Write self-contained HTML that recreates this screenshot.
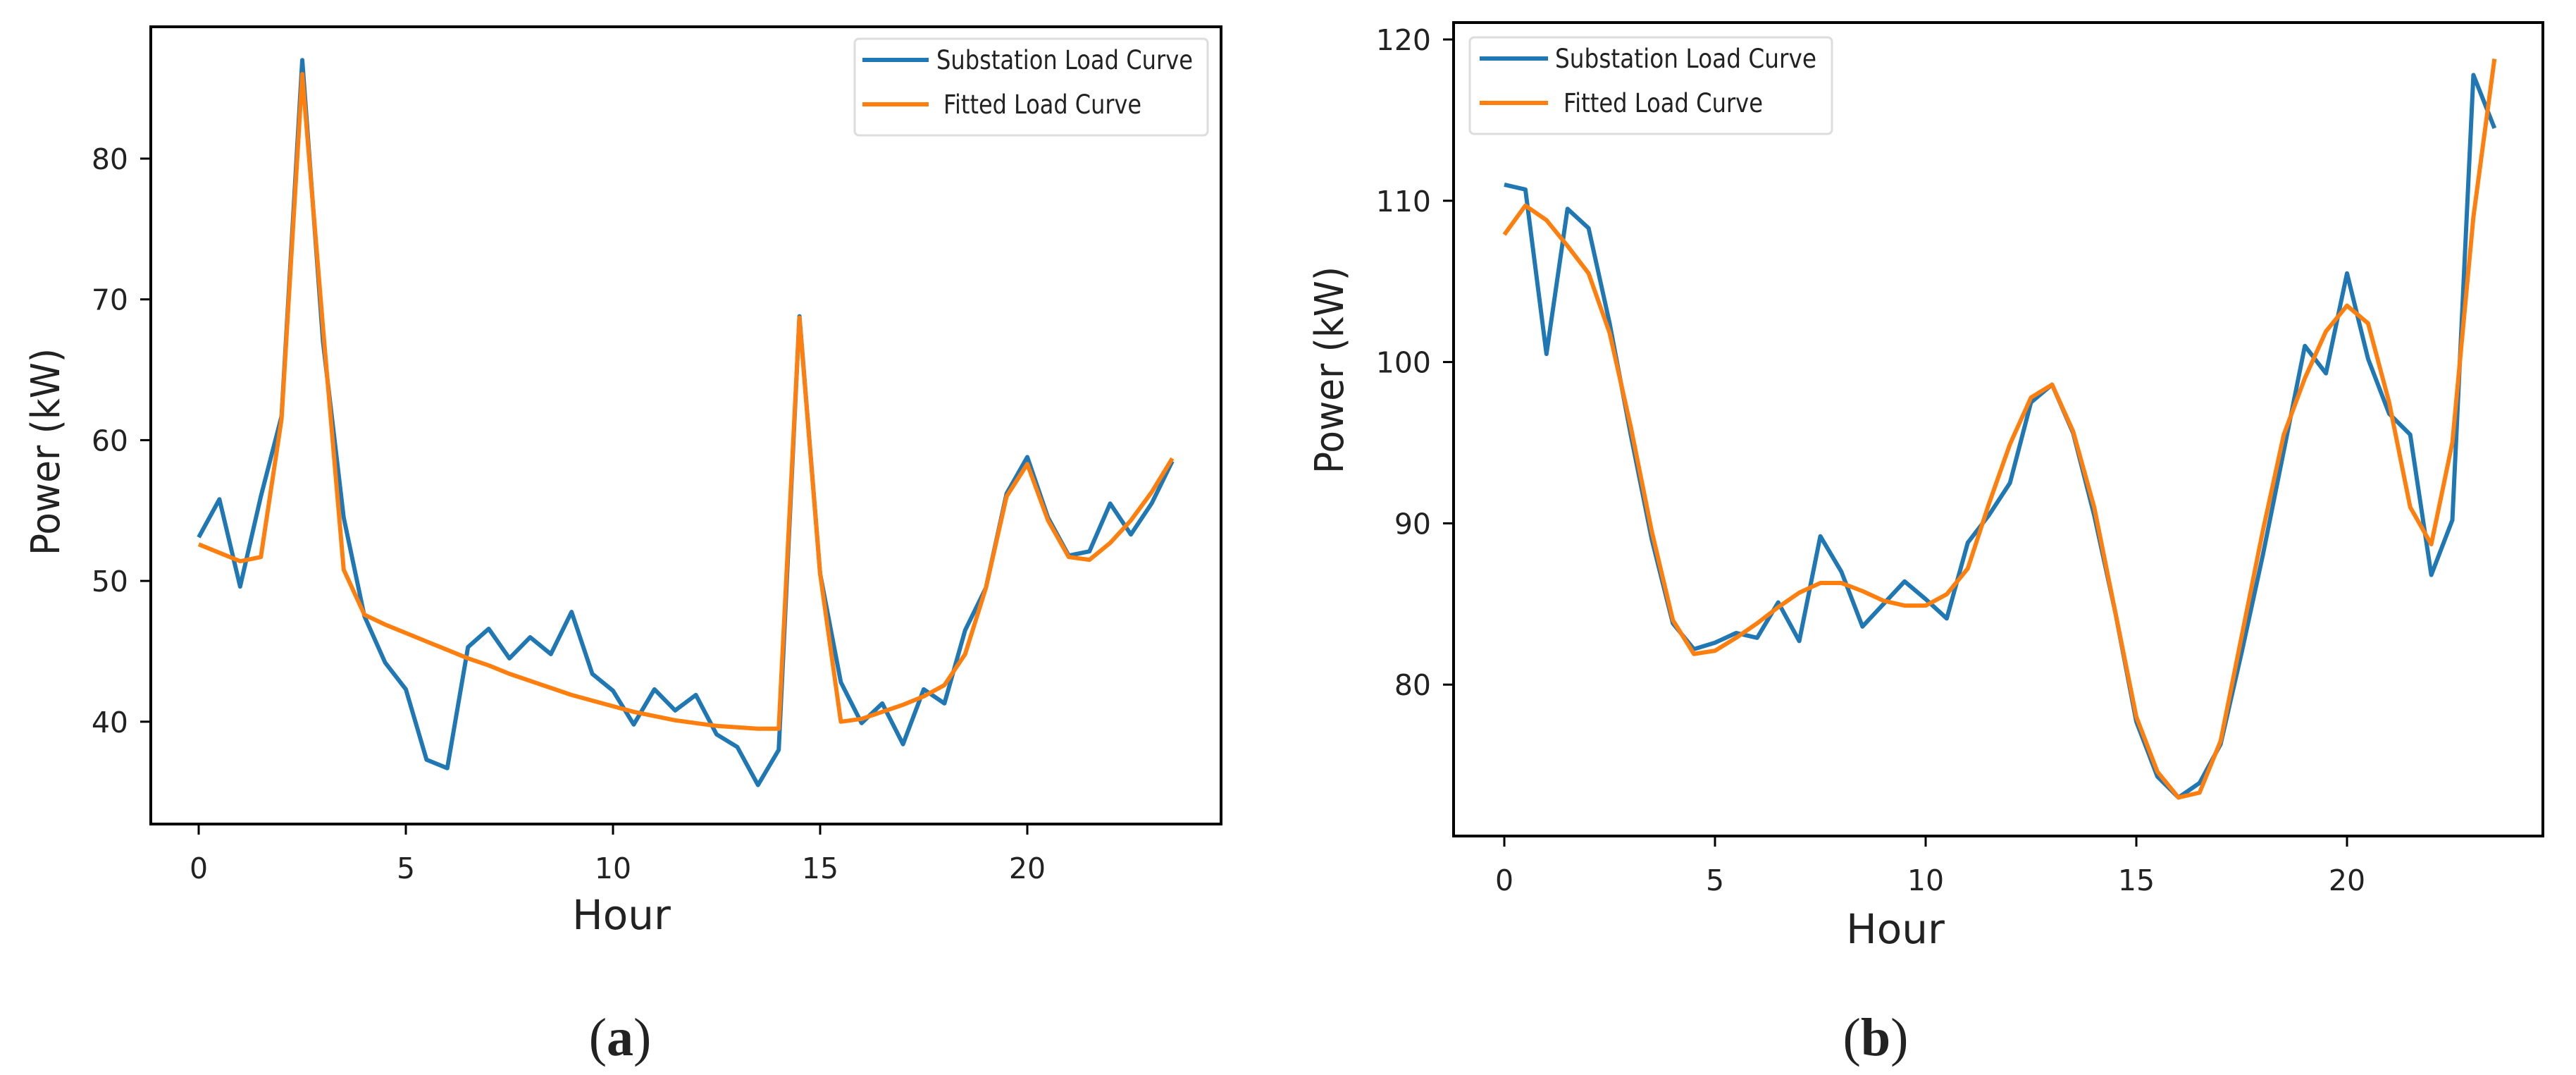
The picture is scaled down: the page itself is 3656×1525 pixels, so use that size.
<!DOCTYPE html>
<html><head><meta charset="utf-8"><style>
html,body{margin:0;padding:0;background:#fff;}
svg{display:block;}
text{font-family:"DejaVu Sans","Liberation Sans",sans-serif;fill:#222;}
</style></head><body>
<svg id="fig" width="3656" height="1525" viewBox="0 0 3656 1525" xmlns="http://www.w3.org/2000/svg">
<rect width="3656" height="1525" fill="#fff"/>
</svg>
<script>
const hours = [];
for (let i = 0; i < 48; i++) hours.push(i * 0.5);
const xTicks = [0, 5, 10, 15, 20];
const yTicksA = [40, 50, 60, 70, 80];
const yTicksB = [80, 90, 100, 110, 120];
const substationA = [53.1,55.8,49.6,56,61.7,87,67,54.5,47.5,44.2,42.3,37.3,36.7,45.3,46.6,44.5,46.0,44.8,47.8,43.4,42.2,39.8,42.3,40.8,41.9,39.1,38.2,35.5,38.0,68.8,50.5,42.8,39.9,41.3,38.4,42.3,41.3,46.5,49.5,56.2,58.8,54.5,51.8,52.1,55.5,53.3,55.5,58.5];
const fittedA = [52.6,52.0,51.4,51.7,61.5,86.0,68,50.8,47.6,46.9,46.3,45.7,45.1,44.5,44.0,43.4,42.9,42.4,41.9,41.5,41.1,40.7,40.4,40.1,39.9,39.7,39.6,39.5,39.5,68.7,50.5,40.0,40.2,40.7,41.2,41.8,42.6,44.8,49.5,56.0,58.3,54.3,51.7,51.5,52.7,54.3,56.3,58.7];
const substationB = [111.0,110.7,100.5,109.5,108.3,102.4,95.5,89,83.8,82.2,82.6,83.2,82.9,85.1,82.7,89.2,87.0,83.6,85.0,86.4,85.3,84.1,88.8,90.5,92.5,97.5,98.6,95.6,90.5,84.5,77.7,74.3,73.0,73.9,76.3,82,88,94.5,101.0,99.3,105.5,100.2,96.8,95.5,86.8,90.2,117.8,114.5];
const fittedB = [107.9,109.7,108.8,107.2,105.5,101.8,96,89.5,84,81.9,82.1,82.9,83.8,84.8,85.7,86.3,86.3,85.8,85.2,84.9,84.9,85.6,87.2,91.2,94.9,97.8,98.6,95.7,91,84.5,78,74.6,73,73.3,76.5,83,89.5,95.5,99,101.9,103.5,102.4,97.5,91,88.7,95,109,118.8];

const NS = "http://www.w3.org/2000/svg";
const svg = document.getElementById('fig');
function mk(tag, attrs, parent) {
  const e = document.createElementNS(NS, tag);
  for (const k in attrs) e.setAttribute(k, attrs[k]);
  (parent || svg).appendChild(e);
  return e;
}

function drawPanel(cfg) {
  const g = mk('g', {});
  
  
  const xs = v => cfg.x0 + v * cfg.xk;
  const ys = v => cfg.yRef + (cfg.yRefV - v) * cfg.yk;
  const frame = mk('rect', {x: cfg.L, y: cfg.T, width: cfg.R - cfg.L, height: cfg.B - cfg.T, fill: 'none', stroke: '#000', 'stroke-width': 4}, g);
  
  
  xTicks.forEach(t => {
    const tk = mk('line', {x1: xs(t), x2: xs(t), y1: cfg.B, y2: cfg.B + 15, stroke: '#000', 'stroke-width': 3}, g);
    
    
    const tl = mk('text', {x: xs(t), y: cfg.B + 77, 'text-anchor': 'middle', 'font-size': 41}, g);
    tl.textContent = t;
    
    
  });
  cfg.yTicks.forEach(t => {
    const tk = mk('line', {x1: cfg.L - 15, x2: cfg.L, y1: ys(t), y2: ys(t), stroke: '#000', 'stroke-width': 3}, g);
    
    
    const tl = mk('text', {x: cfg.L - 32, y: ys(t) + 15, 'text-anchor': 'end', 'font-size': 41}, g);
    tl.textContent = t;
    
    
  });
  const xt = mk('text', {x: cfg.hourX, y: cfg.hourY, 'text-anchor': 'middle', 'font-size': 58}, g);
  xt.textContent = 'Hour';
  
  
  const yt = mk('text', {x: 0, y: 0, 'text-anchor': 'middle', 'font-size': 56, textLength: 294, lengthAdjust: 'spacingAndGlyphs', transform: `translate(${cfg.ylX},${cfg.ylY}) rotate(-90)`}, g);
  yt.textContent = 'Power (kW)';
  
  
  const p1 = mk('polyline', {points: hours.map((h, i) => xs(h) + ',' + ys(cfg.sub[i])).join(' '), fill: 'none', stroke: '#1f77b4', 'stroke-width': 6, 'stroke-linejoin': 'round'}, g);
  
  
  const p2 = mk('polyline', {points: hours.map((h, i) => xs(h) + ',' + ys(cfg.fit[i])).join(' '), fill: 'none', stroke: '#ff7f0e', 'stroke-width': 6, 'stroke-linejoin': 'round'}, g);
  
  
  const lg = mk('g', {}, g);
  
  
  const lb = cfg.leg;
  mk('rect', {x: lb.x, y: lb.y, width: lb.w, height: lb.h, rx: 6, fill: '#fff', stroke: '#ddd', 'stroke-width': 3}, lg);
  const e1 = mk('line', {x1: lb.lx1, x2: lb.lx2, y1: lb.y1, y2: lb.y1, stroke: '#1f77b4', 'stroke-width': 6}, lg);
  
  
  const t1 = mk('text', {x: lb.t1x, y: lb.y1 + 13, 'font-size': 37, textLength: lb.t1w, lengthAdjust: 'spacingAndGlyphs'}, lg);
  t1.textContent = 'Substation Load Curve';
  
  
  const e2 = mk('line', {x1: lb.lx1, x2: lb.lx2, y1: lb.y2, y2: lb.y2, stroke: '#ff7f0e', 'stroke-width': 6}, lg);
  
  
  const t2 = mk('text', {x: lb.t2x, y: lb.y2 + 13, 'font-size': 37, textLength: lb.t2w, lengthAdjust: 'spacingAndGlyphs'}, lg);
  t2.textContent = 'Fitted Load Curve';
  
  
  const cap = mk('text', {x: cfg.capX, y: 1497, 'text-anchor': 'middle', 'font-size': 76, style: 'font-family:"Liberation Serif",serif'}, g);
  cap.innerHTML = '(<tspan font-weight="bold">' + cfg.cap + '</tspan>)';
  
  
}

drawPanel({name: 'chart-a', L: 214, R: 1733, T: 38, B: 1169, x0: 282, xk: 58.8, yRef: 225, yRefV: 80, yk: 19.97,
  yTicks: yTicksA, sub: substationA, fit: fittedA, hourX: 882, hourY: 1318, ylX: 84, ylY: 641, capX: 880, cap: 'a',
  leg: {x: 1213, y: 55, w: 501, h: 137, lx1: 1224, lx2: 1318, y1: 85, y2: 148, t1x: 1329, t1w: 364, t2x: 1339, t2w: 281}});
drawPanel({name: 'chart-b', L: 2063, R: 3609, T: 32, B: 1186, x0: 2135, xk: 59.8, yRef: 56, yRefV: 120, yk: 22.88,
  yTicks: yTicksB, sub: substationB, fit: fittedB, hourX: 2690, hourY: 1338, ylX: 1906, ylY: 525, capX: 2662, cap: 'b',
  leg: {x: 2086, y: 53, w: 514, h: 137, lx1: 2100, lx2: 2197, y1: 83, y2: 146, t1x: 2207, t1w: 371, t2x: 2219, t2w: 283}});
</script>
</body></html>
